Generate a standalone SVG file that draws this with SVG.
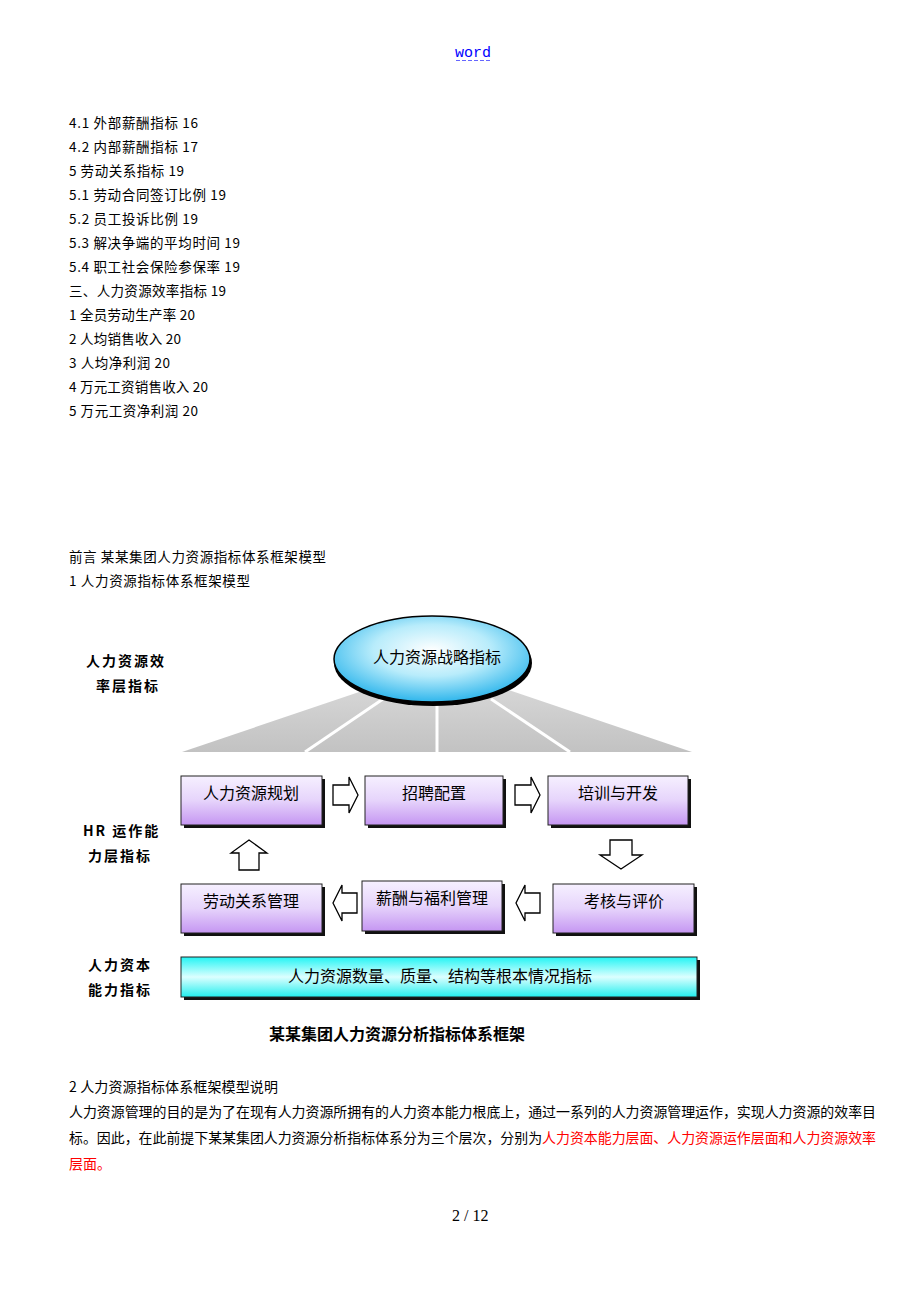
<svg xmlns="http://www.w3.org/2000/svg" width="920" height="1302" viewBox="0 0 920 1302">
<defs>
<linearGradient id="purple" x1="0" y1="0" x2="0" y2="1">
<stop offset="0" stop-color="#f6f0ff"/>
<stop offset="0.5" stop-color="#e6d4fb"/>
<stop offset="1" stop-color="#c596f2"/>
</linearGradient>
<linearGradient id="cyan" x1="0" y1="0" x2="0" y2="1">
<stop offset="0" stop-color="#22f4f4"/>
<stop offset="0.5" stop-color="#dcffff"/>
<stop offset="1" stop-color="#22eeee"/>
</linearGradient>
<radialGradient id="ell" cx="0.5" cy="0.4" r="0.6">
<stop offset="0" stop-color="#ffffff"/>
<stop offset="0.5" stop-color="#b8ecfb"/>
<stop offset="1" stop-color="#2fb6ec"/>
</radialGradient>
<linearGradient id="gray" x1="0" y1="0" x2="0" y2="1">
<stop offset="0" stop-color="#d6d6d6"/>
<stop offset="1" stop-color="#c2c2c2"/>
</linearGradient>
</defs>
<style>
.t{font-family:"Noto Sans CJK SC","Noto Sans",sans-serif;font-size:13.5px;fill:#000}
.p{font-family:"Noto Sans CJK SC","Noto Sans",sans-serif;font-size:14px;fill:#000}
.red{fill:#ff0000}
.lbl{font-family:"Noto Sans CJK SC",sans-serif;font-size:14px;font-weight:bold;fill:#000;letter-spacing:2px}
.bt{font-family:"Noto Sans CJK SC",sans-serif;font-size:16px;fill:#000;text-anchor:middle}
.box{fill:url(#purple);stroke:#222;stroke-width:1}
.sh{fill:#111}
.arr{fill:#fff;stroke:#000;stroke-width:1.3}
</style>
<rect width="920" height="1302" fill="#fff"/>
<text x="455" y="57" font-family="Liberation Mono, monospace" font-size="15" fill="#0000ff">word</text>
<line x1="456" y1="60.500" x2="491" y2="60.500" stroke="#6666ff" stroke-width="1" stroke-dasharray="4,2"/>
<g class="t">
<text x="69" y="128" class="t" textLength="129" lengthAdjust="spacing">4.1 外部薪酬指标 16</text>
<text x="69" y="152" class="t" textLength="129" lengthAdjust="spacing">4.2 内部薪酬指标 17</text>
<text x="69" y="176" class="t" textLength="115" lengthAdjust="spacing">5 劳动关系指标 19</text>
<text x="69" y="200" class="t" textLength="157" lengthAdjust="spacing">5.1 劳动合同签订比例 19</text>
<text x="69" y="224" class="t" textLength="129" lengthAdjust="spacing">5.2 员工投诉比例 19</text>
<text x="69" y="248" class="t" textLength="171" lengthAdjust="spacing">5.3 解决争端的平均时间 19</text>
<text x="69" y="272" class="t" textLength="171" lengthAdjust="spacing">5.4 职工社会保险参保率 19</text>
<text x="69" y="296" class="t" textLength="157" lengthAdjust="spacing">三、人力资源效率指标 19</text>
<text x="69" y="320" class="t" textLength="126" lengthAdjust="spacing">1 全员劳动生产率 20</text>
<text x="69" y="344" class="t" textLength="112" lengthAdjust="spacing">2 人均销售收入 20</text>
<text x="69" y="368" class="t" textLength="101" lengthAdjust="spacing">3 人均净利润 20</text>
<text x="69" y="392" class="t" textLength="139" lengthAdjust="spacing">4 万元工资销售收入 20</text>
<text x="69" y="416" class="t" textLength="129" lengthAdjust="spacing">5 万元工资净利润 20</text>
<text x="69" y="562" class="t" textLength="257" lengthAdjust="spacing">前言 某某集团人力资源指标体系框架模型</text>
<text x="69" y="586" class="t" textLength="181" lengthAdjust="spacing">1 人力资源指标体系框架模型</text>
</g>
<g id="connectors">
<polygon points="182,752 368,689 506,689 692,752" fill="url(#gray)"/>
<line x1="383" y1="699" x2="305" y2="752" stroke="#fff" stroke-width="3"/>
<line x1="437" y1="702" x2="437" y2="752" stroke="#fff" stroke-width="3"/>
<line x1="491" y1="699" x2="570" y2="752" stroke="#fff" stroke-width="3"/>
<path class="arr" d="M333,785 H349 V777 L358,795 L349,813 V805 H333 Z"/>
<path class="arr" d="M515,785 H531 V777 L540,795 L531,813 V805 H515 Z"/>
<path class="arr" d="M610,840 H632 V855 H642 L621,869 L600,855 H610 Z"/>
<path class="arr" d="M249,840 L267,853 H259 V870 H239 V853 H231 Z"/>
<path class="arr" d="M357,893 H342 V885 L333,903 L342,921 V913 H357 Z"/>
<path class="arr" d="M540,893 H525 V885 L516,903 L525,921 V913 H540 Z"/>
</g>
<g id="strategy">
<ellipse cx="433" cy="663" rx="99" ry="43" fill="#000"/>
<ellipse cx="432" cy="659" rx="98" ry="43" fill="url(#ell)" stroke="#000" stroke-width="1.5"/>
<text x="437" y="663" class="bt">人力资源战略指标</text>
</g>
<g id="label-efficiency">
<text x="86" y="666" class="lbl">人力资源效</text>
<text x="96" y="691" class="lbl">率层指标</text>
</g>
<g id="label-hr">
<text x="83" y="836" class="lbl">HR 运作能</text>
<text x="88" y="861" class="lbl">力层指标</text>
</g>
<g id="label-capital">
<text x="88" y="970" class="lbl">人力资本</text>
<text x="88" y="995" class="lbl">能力指标</text>
</g>
<g id="n-plan">
<rect class="sh" x="184" y="779" width="141" height="49"/>
<rect class="box" x="181" y="776" width="141" height="49"/>
<text x="251" y="799" class="bt">人力资源规划</text>
</g>
<g id="n-recruit">
<rect class="sh" x="368" y="779" width="138" height="49"/>
<rect class="box" x="365" y="776" width="138" height="49"/>
<text x="434" y="799" class="bt">招聘配置</text>
</g>
<g id="n-train">
<rect class="sh" x="551" y="779" width="140" height="49"/>
<rect class="box" x="548" y="776" width="140" height="49"/>
<text x="618" y="799" class="bt">培训与开发</text>
</g>
<g id="n-labor">
<rect class="sh" x="184" y="887" width="141" height="49"/>
<rect class="box" x="181" y="884" width="141" height="49"/>
<text x="251" y="907" class="bt">劳动关系管理</text>
</g>
<g id="n-pay">
<rect class="sh" x="365" y="884" width="140" height="50"/>
<rect class="box" x="362" y="881" width="140" height="50"/>
<text x="432" y="904" class="bt">薪酬与福利管理</text>
</g>
<g id="n-eval">
<rect class="sh" x="556" y="887" width="141" height="49"/>
<rect class="box" x="553" y="884" width="141" height="49"/>
<text x="624" y="907" class="bt">考核与评价</text>
</g>
<g id="n-capital">
<rect class="sh" x="184" y="960" width="516" height="40"/>
<rect x="181" y="957" width="516" height="40" fill="url(#cyan)" stroke="#222" stroke-width="1"/>
<text x="440" y="982" class="bt">人力资源数量、质量、结构等根本情况指标</text>
</g>
<text x="397" y="1040" font-family="Noto Sans CJK SC, sans-serif" font-size="16" font-weight="bold" text-anchor="middle">某某集团人力资源分析指标体系框架</text>
<text x="69" y="1092" class="p" font-size="13" textLength="209" lengthAdjust="spacing">2 人力资源指标体系框架模型说明</text>
<text x="69" y="1117" class="p" textLength="807" lengthAdjust="spacingAndGlyphs">人力资源管理的目的是为了在现有人力资源所拥有的人力资本能力根底上，通过一系列的人力资源管理运作，实现人力资源的效率目</text>
<text x="69" y="1143" class="p" textLength="807" lengthAdjust="spacingAndGlyphs">标。因此，在此前提下某某集团人力资源分析指标体系分为三个层次，分别为<tspan class="red">人力资本能力层面、人力资源运作层面和人力资源效率</tspan></text>
<text x="69" y="1169" class="p red">层面。</text>
<text x="452" y="1221" font-family="Liberation Serif, serif" font-size="16">2 / 12</text>
</svg>
